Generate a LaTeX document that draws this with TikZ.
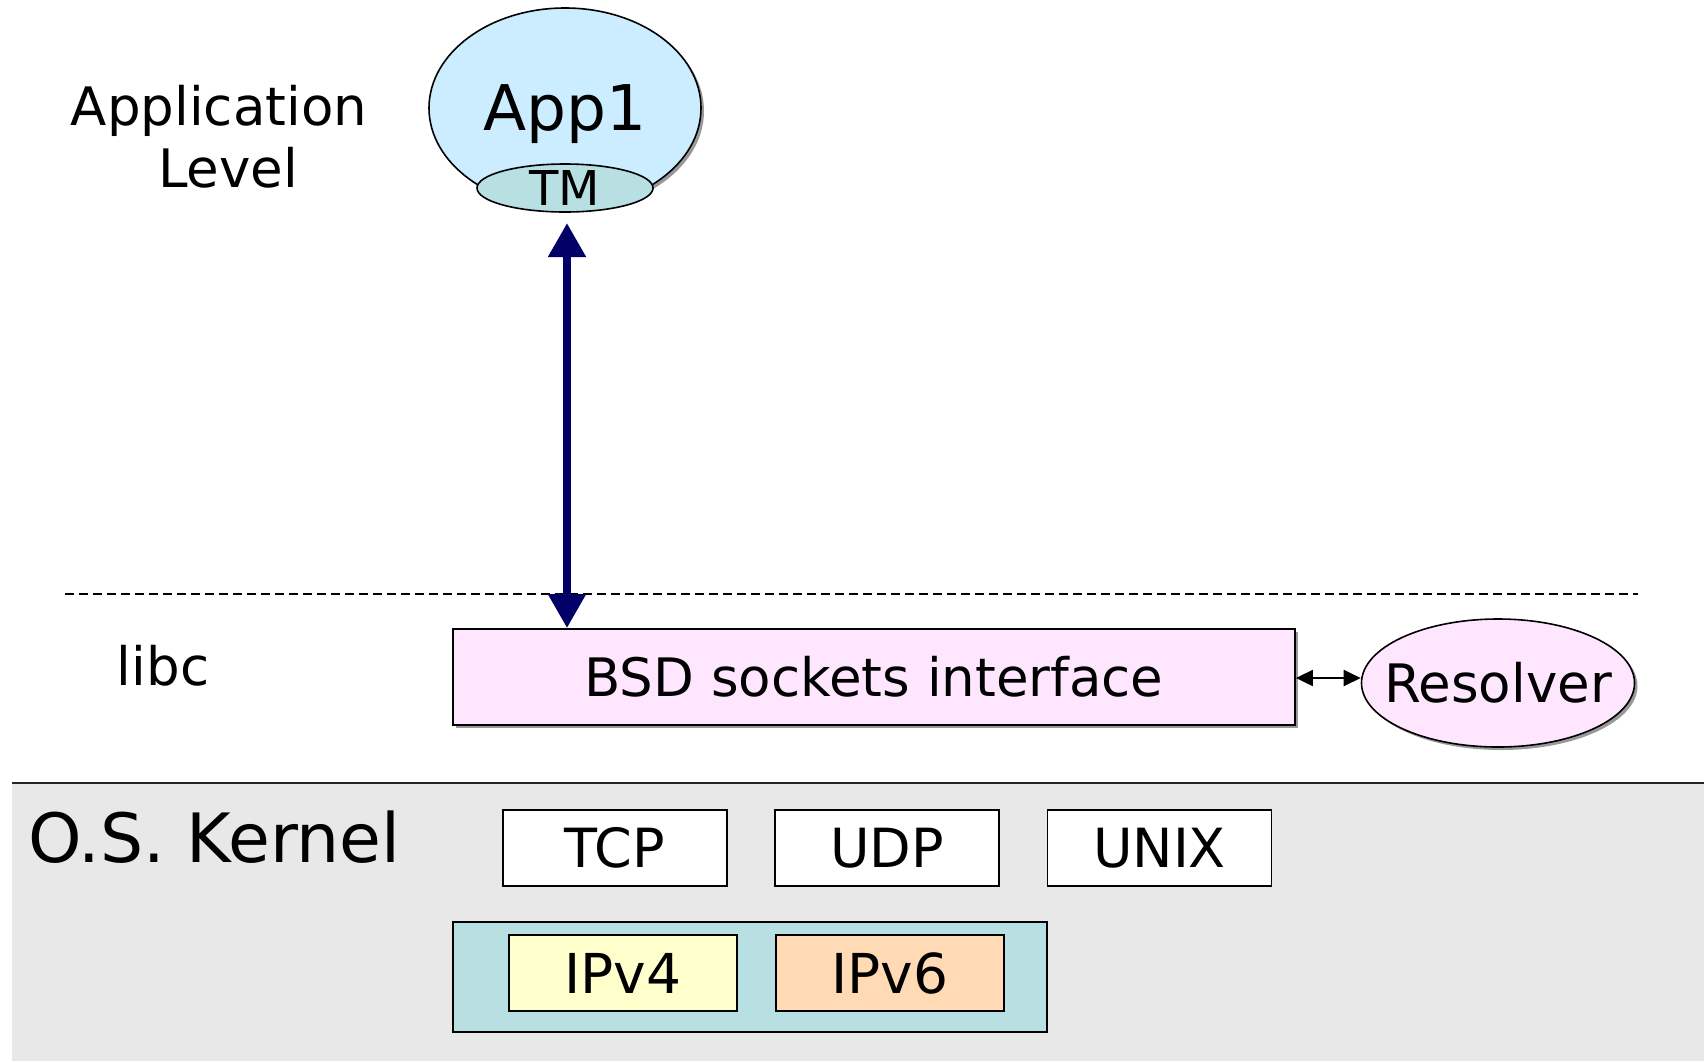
\documentclass[tikz,border=0pt]{standalone}
\usepackage{fontspec}
\setmainfont{DejaVu Sans}
\usetikzlibrary{arrows.meta,shapes.geometric,shadows}
\definecolor{appblue}{HTML}{CCECFF}
\definecolor{tmteal}{HTML}{B8DFE2}
\definecolor{bsdpink}{HTML}{FFE6FF}
\definecolor{kgray}{HTML}{E8E8E8}
\definecolor{ipvfour}{HTML}{FFFFCC}
\definecolor{ipvsix}{HTML}{FFDAB4}
\definecolor{navyc}{HTML}{000066}
\begin{document}
\begin{tikzpicture}[x=1pt,y=-1pt,
  shad/.style={drop shadow={shadow xshift=3pt,shadow yshift=-3pt,fill=black!40,opacity=1}},
  fs/.style={font=\fontsize{#1}{#1}\selectfont, text height=0.729*#1 pt, text depth=0pt},
  ell/.style={ellipse, draw=black, line width=1.6pt, inner xsep=-20pt, inner ysep=-4pt},
  box/.style={rectangle, draw=black, line width=1.8pt, inner sep=0pt},
  plain/.style={inner sep=0pt},
  bigarrow/.style={draw=navyc, line width=8pt, {Triangle[width=36pt,length=34pt]}-{Triangle[width=36pt,length=34pt]}},
  smallarrow/.style={draw=black, line width=2pt, {Triangle[width=16pt,length=17pt]}-{Triangle[width=16pt,length=17pt]}}
]
\useasboundingbox (0,0) rectangle (1704,1061);
\fill[white] (0,0) rectangle (1704,1061);

% kernel area
\fill[kgray] (12,783) rectangle (1704,1061);
\coordinate (kl) at (12,783);
\coordinate (kr) at (1704,783);
\draw[line width=2pt, black!85] (kl) -- (kr);

% dashed separator
\coordinate (dl) at (65,594);
\coordinate (dr) at (1638,594);
\draw[line width=1.5pt, dash pattern=on 9pt off 5pt] (dl) -- (dr);

% application level
\node[plain, align=center, font=\fontsize{53}{62}\selectfont] (applvl) at (219,137) {Application\\\hspace*{18pt}Level};
\node[ell, shad, fill=appblue, minimum width=272pt, minimum height=200pt, fs=63] (app) at (565,108) {};
\node[plain, fs=63] (apptxt) at (565,108) {App1};
\node[ell, fill=tmteal, minimum width=176pt, minimum height=48pt, fs=48] (tm) at (565,188) {TM};

% libc
\node[plain, anchor=base, font=\fontsize{53}{60}\selectfont] (libc) at (163,685) {libc};
\node[box, shad, fill=bsdpink, minimum width=842pt, minimum height=96pt, fs=53] (bsd) at (874,677) {BSD sockets interface};
\node[ell, shad, fill=bsdpink, minimum width=273pt, minimum height=128pt, fs=53] (res) at (1498,683) {Resolver};

% arrows
\coordinate (atop) at (567,223);
\draw[bigarrow] (atop) -- (atop |- bsd.north);
\draw[smallarrow] (bsd.east |- 0,678) -- (res.west |- 0,678);

% kernel
\node[plain, anchor=base west, font=\fontsize{68}{76}\selectfont] (kern) at (28,862) {O.S. Kernel};
\node[box, fill=white, minimum width=224pt, minimum height=76pt, fs=54] (tcp) at (615,848) {TCP};
\node[box, fill=white, minimum width=224pt, minimum height=76pt, fs=54] (udp) at (887,848) {UDP};
\node[box, fill=white, minimum width=224pt, minimum height=76pt, fs=54] (unix) at (1159.5,848) {UNIX};
\node[box, fill=tmteal, minimum width=594pt, minimum height=110pt] (ip) at (750,977) {};
\node[box, fill=ipvfour, minimum width=228pt, minimum height=76pt, fs=55] (ipv4) at (623,973) {IPv4};
\node[box, fill=ipvsix, minimum width=228pt, minimum height=76pt, fs=55] (ipv6) at (890,973) {IPv6};
\end{tikzpicture}
\end{document}
